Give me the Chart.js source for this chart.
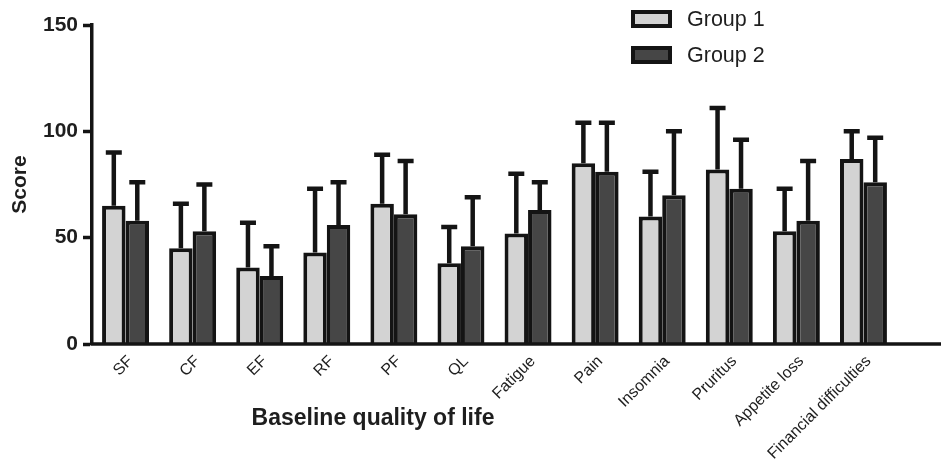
<!DOCTYPE html>
<html>
<head>
<meta charset="utf-8">
<script src="https://cdn.jsdelivr.net/npm/chart.js@4.4.1/dist/chart.umd.min.js"></script>
<style>
  body { margin: 0; background: #fff; }
</style>
</head>
<body>
<canvas id="grafico" width="941" height="459"></canvas>
<script>
// dados
const categorias = ['SF', 'CF', 'EF', 'RF', 'PF', 'QL', 'Fatigue', 'Pain', 'Insomnia', 'Pruritus', 'Appetite loss', 'Financial difficulties'];
const grupo1 = [65, 45, 36, 43, 66, 38, 52, 85, 60, 82, 53, 87];
const grupo1Dp = [25, 21, 21, 30, 23, 17, 28, 19, 21, 29, 20, 13];
const grupo2 = [58, 53, 32, 56, 61, 46, 63, 81, 70, 73, 58, 76];
const grupo2Dp = [18, 22, 14, 20, 25, 23, 13, 23, 30, 23, 28, 21];
const ticksY = [0, 50, 100, 150];

const corBorda = '#141414';
const fonte = "'Liberation Sans', Arial, sans-serif";

// barras de erro (so para cima)
const barrasErro = {
  id: 'barrasErro',
  afterDatasetsDraw(chart) {
    const ctx = chart.ctx;
    const y = chart.scales.y;
    const dps = [grupo1Dp, grupo2Dp];
    ctx.save();
    ctx.strokeStyle = corBorda;
    ctx.lineWidth = 4.5;
    chart.data.datasets.forEach((ds, i) => {
      const meta = chart.getDatasetMeta(i);
      meta.data.forEach((bar, j) => {
        const topo = y.getPixelForValue(ds.data[j] + dps[i][j]);
        ctx.beginPath();
        ctx.moveTo(bar.x, bar.y);
        ctx.lineTo(bar.x, topo);
        ctx.moveTo(bar.x - 8, topo);
        ctx.lineTo(bar.x + 8, topo);
        ctx.stroke();
      });
    });
    ctx.restore();
  }
};

// eixo x comprido, legenda e titulo do eixo x
const extras = {
  id: 'extras',
  afterDraw(chart) {
    const ctx = chart.ctx;
    const a = chart.chartArea;
    ctx.save();
    ctx.strokeStyle = corBorda;
    ctx.lineWidth = 3.5;
    ctx.beginPath();
    ctx.moveTo(a.left - 1.5, a.bottom);
    ctx.lineTo(chart.width, a.bottom);
    ctx.stroke();

    // legenda
    chart.data.datasets.forEach((ds, i) => {
      const yy = 12 + i * 36;
      ctx.fillStyle = ds.backgroundColor;
      ctx.lineWidth = 4;
      ctx.fillRect(633, yy, 37, 14);
      ctx.strokeRect(633, yy, 37, 14);
      ctx.fillStyle = '#1e1e1e';
      ctx.font = '21.5px ' + fonte;
      ctx.textBaseline = 'middle';
      ctx.textAlign = 'left';
      ctx.fillText(ds.label, 687, yy + 8);
    });

    ctx.fillStyle = '#1e1e1e';
    ctx.font = 'bold 23px ' + fonte;
    ctx.textAlign = 'center';
    ctx.textBaseline = 'middle';
    ctx.fillText('Baseline quality of life', 373, 419);
    ctx.restore();
  }
};

new Chart(document.getElementById('grafico'), {
  type: 'bar',
  data: {
    labels: categorias,
    datasets: [
      { label: 'Group 1', data: grupo1, backgroundColor: '#d3d3d3', borderColor: corBorda, borderWidth: 4 },
      { label: 'Group 2', data: grupo2, backgroundColor: '#464646', borderColor: corBorda, borderWidth: 4 }
    ]
  },
  options: {
    responsive: false,
    animation: false,
    layout: { padding: { top: 25, right: 44, left: 0, bottom: 0 } },
    datasets: { bar: { categoryPercentage: 0.7, barPercentage: 1 } },
    plugins: { legend: { display: false }, tooltip: { enabled: false } },
    scales: {
      x: {
        afterFit: s => { s.height = 115; },
        grid: { display: false },
        border: { display: false },
        ticks: { maxRotation: 45, minRotation: 45, padding: 0, labelOffset: 5, color: '#1e1e1e', font: { family: fonte, size: 16 } }
      },
      y: {
        min: 0,
        max: 150,
        afterFit: s => { s.width = 92; },
        afterBuildTicks: s => { s.ticks = ticksY.map(v => ({ value: v })); },
        grid: { drawOnChartArea: false, tickLength: 9, tickWidth: 3.5, tickColor: corBorda },
        border: { display: true, width: 3.5, color: corBorda },
        ticks: { padding: 5, color: '#1e1e1e', font: { family: fonte, size: 21, weight: 'bold' } },
        title: { display: true, text: 'Score', color: '#1e1e1e', padding: { top: 8, bottom: 0 }, font: { family: fonte, size: 21, weight: 'bold' } }
      }
    }
  },
  plugins: [barrasErro, extras]
});
</script>
</body>
</html>
